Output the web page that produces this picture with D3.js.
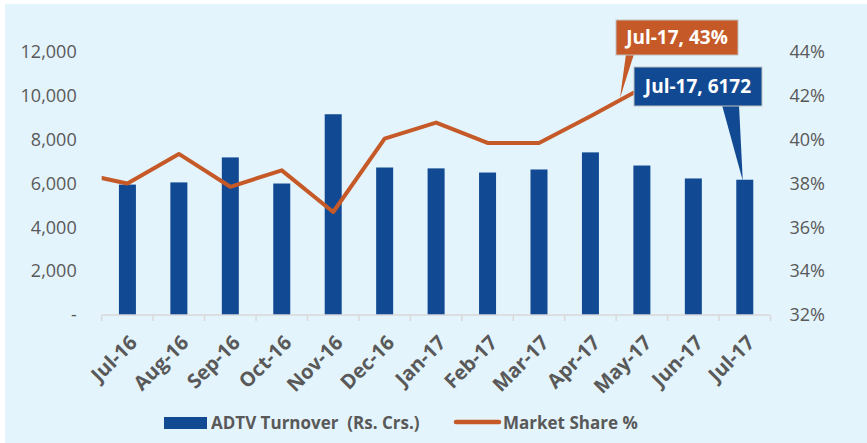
<!DOCTYPE html>
<html>
<head>
<meta charset="utf-8">
<script src="https://cdn.jsdelivr.net/npm/d3@7"></script>
<style>
  html, body { margin: 0; padding: 0; background: #fff; }
  svg { display: block; font-family: "Open Sans", sans-serif; }
</style>
</head>
<body>
<div id="chart"></div>
<script>
// --- Data ---
const months = ["Jul-16", "Aug-16", "Sep-16", "Oct-16", "Nov-16", "Dec-16", "Jan-17",
  "Feb-17", "Mar-17", "Apr-17", "May-17", "Jun-17", "Jul-17"];
const turnover = [5950, 6050, 7190, 6000, 9160, 6730, 6690, 6500, 6640, 7420, 6820, 6230, 6172];
const marketShare = [38.0, 39.35, 37.85, 38.6, 36.7, 40.05, 40.78, 39.85, 39.85, 41.07, 42.35, 42.7, 43.0];
const prevShare = 38.5; // Jun-16, only its segment is visible at the left edge
const leftTicks = [0, 2000, 4000, 6000, 8000, 10000, 12000];
const rightTicks = [32, 34, 36, 38, 40, 42, 44];

const width = 867, height = 443;
const margin = { top: 52, right: 96.5, bottom: 128, left: 101.7 };
const innerWidth = width - margin.left - margin.right;
const innerHeight = height - margin.top - margin.bottom;

const svg = d3.select("#chart").append("svg")
  .attr("width", width)
  .attr("height", height);

svg.append("rect")
  .attr("x", 5).attr("y", 4)
  .attr("width", width - 5).attr("height", height - 4)
  .attr("fill", "#e4f4fc");

const g = svg.append("g")
  .attr("transform", `translate(${margin.left},${margin.top})`);

// --- Scales ---
const x = d3.scaleBand().domain(months).range([0, innerWidth]).paddingInner(0).paddingOuter(0);
const yL = d3.scaleLinear().domain([0, 12000]).range([innerHeight, 0]);
const yR = d3.scaleLinear().domain([32, 44]).range([innerHeight, 0]);

const textColor = "#595959";
const barColor = "#114a93";
const lineColor = "#c55a28";

// --- Axes ---
g.append("g")
  .call(d3.axisLeft(yL).tickValues(leftTicks).tickSize(0).tickPadding(25)
    .tickFormat(d => d === 0 ? "-" : d3.format(",")(d)))
  .call(a => a.select(".domain").remove())
  .call(a => a.selectAll("text").attr("fill", textColor).attr("font-size", "18px")
    .attr("font-family", "Open Sans"));

g.append("g")
  .attr("transform", `translate(${innerWidth},0)`)
  .call(d3.axisRight(yR).tickValues(rightTicks).tickSize(0).tickPadding(19)
    .tickFormat(d => d + "%"))
  .call(a => a.select(".domain").remove())
  .call(a => a.selectAll("text").attr("fill", textColor).attr("font-size", "18px")
    .attr("font-family", "Open Sans"));

// --- Bars ---
const barW = 17;
g.selectAll(".bar")
  .data(turnover)
  .join("rect")
  .attr("class", "bar")
  .attr("x", (d, i) => x(months[i]) + x.bandwidth() / 2 - barW / 2)
  .attr("y", d => yL(d))
  .attr("width", barW)
  .attr("height", d => innerHeight - yL(d))
  .attr("fill", barColor);

// --- X axis line and ticks ---
const xAxis = g.append("g").attr("transform", `translate(0,${innerHeight})`);
xAxis.append("line")
  .attr("x1", 0).attr("x2", innerWidth)
  .attr("stroke", "#d9d9d9").attr("stroke-width", 1.5);
xAxis.selectAll(".tk")
  .data(d3.range(months.length + 1))
  .join("line")
  .attr("x1", i => i * x.step()).attr("x2", i => i * x.step())
  .attr("y1", 0).attr("y2", 6)
  .attr("stroke", "#d9d9d9").attr("stroke-width", 1.5);
xAxis.selectAll(".lbl")
  .data(months)
  .join("text")
  .attr("transform", d => `translate(${x(d) + x.bandwidth() / 2 + 11},${29}) rotate(-45)`)
  .attr("text-anchor", "end")
  .attr("fill", textColor)
  .attr("font-size", "20px")
  .attr("font-weight", "bold")
  .text(d => d);

// --- Line ---
g.append("clipPath").attr("id", "plotClip")
  .append("rect").attr("x", 0).attr("y", -60).attr("width", innerWidth).attr("height", innerHeight + 60);

const linePts = [[x(months[0]) - x.step() / 2, yR(prevShare)]]
  .concat(marketShare.map((d, i) => [x(months[i]) + x.bandwidth() / 2, yR(d)]));

g.append("path")
  .attr("clip-path", "url(#plotClip)")
  .attr("d", d3.line()(linePts))
  .attr("fill", "none")
  .attr("stroke", lineColor)
  .attr("stroke-width", 4)
  .attr("stroke-linejoin", "round");

// --- Callouts ---
function callout(box, tip, base, fill, label) {
  g.append("path")
    .attr("d", `M${base[0]},${box.y + box.h - 1}L${tip[0]},${tip[1]}L${base[1]},${box.y + box.h - 1}Z`)
    .attr("fill", fill);
  g.append("rect")
    .attr("x", box.x).attr("y", box.y).attr("width", box.w).attr("height", box.h)
    .attr("fill", fill).attr("stroke", "#bfbfbf").attr("stroke-width", 1);
  g.append("text")
    .attr("x", box.x + box.w / 2).attr("y", box.y + box.h / 2)
    .attr("dy", "0.36em")
    .attr("text-anchor", "middle")
    .attr("fill", "#ffffff")
    .attr("font-size", "19px")
    .attr("font-weight", "bold")
    .text(label);
}

const lastIdx = months.length - 1;
const lastX = x(months[lastIdx]) + x.bandwidth() / 2;

// orange: share callout, pointer ends on the line near May-17
callout({ x: 616 - margin.left, y: 20 - margin.top, w: 122, h: 35 },
  [620 - margin.left, 98 - margin.top], [626 - margin.left, 634 - margin.left],
  lineColor, `${months[lastIdx]}, ${marketShare[lastIdx]}%`);

// blue: turnover callout, pointer to top of last bar
callout({ x: 634 - margin.left, y: 67 - margin.top, w: 128, h: 39 },
  [lastX - 2, yL(turnover[lastIdx]) + 1], [722 - margin.left, 739 - margin.left],
  barColor, `${months[lastIdx]}, ${turnover[lastIdx]}`);

// --- Legend ---
const lg = svg.append("g");
lg.append("rect")
  .attr("x", 164).attr("y", 417).attr("width", 43).attr("height", 12)
  .attr("fill", barColor);
lg.append("text")
  .attr("x", 211).attr("y", 423).attr("dy", "0.36em")
  .attr("fill", textColor).attr("font-size", "17px").attr("font-weight", "bold")
  .attr("xml:space", "preserve")
  .text("ADTV Turnover  (Rs. Crs.)");
lg.append("line")
  .attr("x1", 456).attr("x2", 499).attr("y1", 422).attr("y2", 422)
  .attr("stroke", lineColor).attr("stroke-width", 4.5).attr("stroke-linecap", "round");
lg.append("text")
  .attr("x", 503).attr("y", 423).attr("dy", "0.36em")
  .attr("fill", textColor).attr("font-size", "17px").attr("font-weight", "bold")
  .text("Market Share %");
</script>
</body>
</html>
